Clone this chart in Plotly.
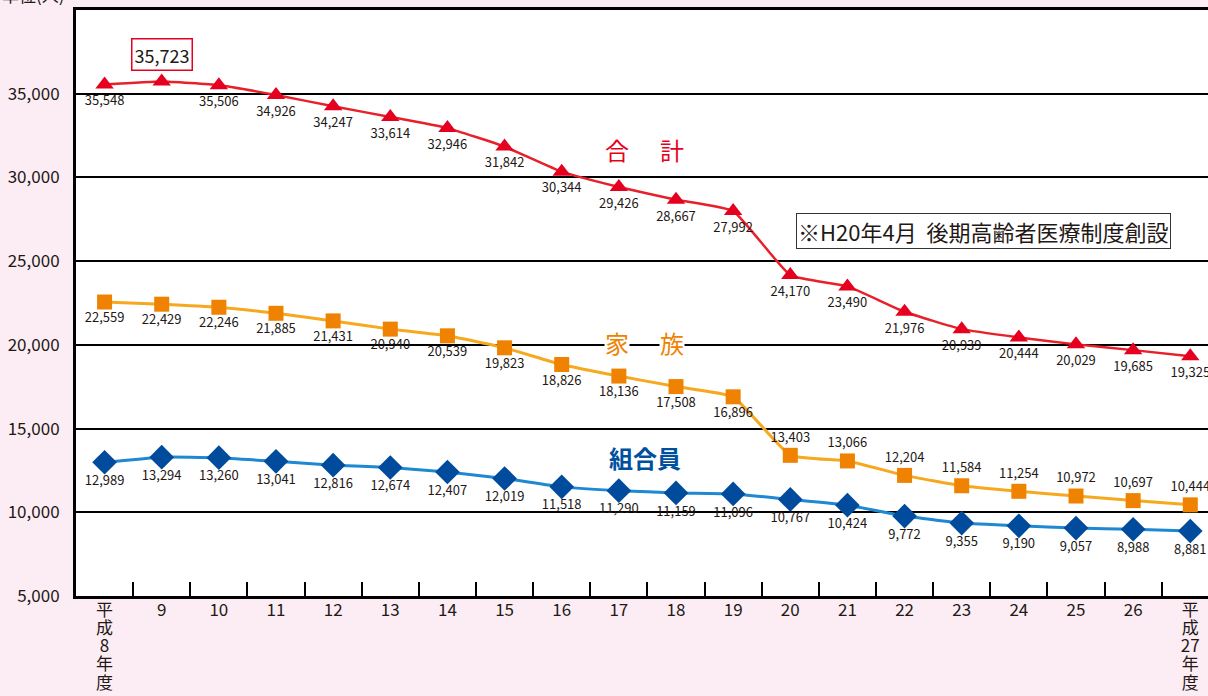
import plotly.graph_objects as go

years = ["平成8年度", "9", "10", "11", "12", "13", "14", "15", "16", "17",
         "18", "19", "20", "21", "22", "23", "24", "25", "26", "平成27年度"]
total = [35548, 35723, 35506, 34926, 34247, 33614, 32946, 31842, 30344, 29426,
         28667, 27992, 24170, 23490, 21976, 20939, 20444, 20029, 19685, 19325]
family = [22559, 22429, 22246, 21885, 21431, 20940, 20539, 19823, 18826, 18136,
          17508, 16896, 13403, 13066, 12204, 11584, 11254, 10972, 10697, 10444]
members = [12989, 13294, 13260, 13041, 12816, 12674, 12407, 12019, 11518, 11290,
           11159, 11096, 10767, 10424, 9772, 9355, 9190, 9057, 8988, 8881]
y_ticks = [5000, 10000, 15000, 20000, 25000, 30000, 35000]

FONT = "Noto Sans CJK JP"
LABEL = "#231815"


def fmt(v):
    return f"{v:,}"


def tick_text(label):
    # vertical stacking for the era-labelled ends
    if label.startswith("平成"):
        parts = ["平", "成", label[2:-2], "年", "度"]
    else:
        parts = [label]
    return "<br>".join(f'<span style="font-size:17px">{p}</span>' for p in parts)


fig = go.Figure()

# 組合員
fig.add_trace(go.Scatter(
    x=years, y=members, mode="lines+markers+text",
    line=dict(color="#1E88D2", width=3, shape="spline", smoothing=0.4),
    marker=dict(symbol="diamond", size=19, color="#004B9B"),
    text=[fmt(v) for v in members], textposition="bottom center",
    textfont=dict(family=FONT, size=13, color=LABEL), cliponaxis=False,
))

# 家族
fam_pos = ["bottom center"] * 12 + ["top center"] * 8
fig.add_trace(go.Scatter(
    x=years, y=family, mode="lines+markers+text",
    line=dict(color="#F6A91E", width=3, shape="spline", smoothing=0.4),
    marker=dict(symbol="square", size=15, color="#EF8200"),
    text=[fmt(v) for v in family], textposition=fam_pos,
    textfont=dict(family=FONT, size=13, color=LABEL), cliponaxis=False,
))

# 合計
tot_text = [fmt(v) for v in total]
tot_text[1] = ""
fig.add_trace(go.Scatter(
    x=years, y=total, mode="lines+markers+text",
    line=dict(color="#E8202A", width=2.5, shape="spline", smoothing=0.4),
    marker=dict(symbol="triangle-up", size=16, color="#E60020"),
    text=tot_text, textposition="bottom center",
    textfont=dict(family=FONT, size=13, color=LABEL), cliponaxis=False,
))

ann = []
# boxed peak value
ann.append(dict(x=1, y=total[1], xref="x", yref="y", text=fmt(total[1]), showarrow=False,
                yshift=27, font=dict(family=FONT, size=18, color=LABEL),
                bordercolor="#E60020", borderwidth=1.5, borderpad=2, bgcolor="white"))
# series names
for ch, xi in (("合", 8.97), ("計", 9.93)):
    ann.append(dict(x=xi, y=31650, xref="x", yref="y", text=ch, showarrow=False,
                    font=dict(family=FONT, size=24, color="#E60020")))
for ch, xi in (("家", 8.97), ("族", 9.93)):
    ann.append(dict(x=xi, y=20000, xref="x", yref="y", text=ch, showarrow=False,
                    bgcolor="white", borderpad=0, yshift=2,
                    font=dict(family=FONT, size=24, color="#EF8200")))
ann.append(dict(x=9.46, y=13300, xref="x", yref="y", text="<b>組合員</b>", showarrow=False,
                font=dict(family=FONT, size=24, color="#0050A0")))
ann.append(dict(x=15.38, y=26800, xref="x", yref="y", text="※H20年4月  後期高齢者医療制度創設",
                showarrow=False, font=dict(family=FONT, size=22, color=LABEL),
                bordercolor="#333333", borderwidth=1, borderpad=1, bgcolor="white"))
ann.append(dict(x=0, y=1.0, xref="paper", yref="paper", xanchor="left", yanchor="bottom",
                text="単位(人)", showarrow=False, xshift=-76, yshift=1,
                font=dict(family=FONT, size=17, color=LABEL)))

fig.update_layout(
    width=1208, height=696,
    margin=dict(l=76, r=0, t=10, b=100),
    paper_bgcolor="#FCEDF4", plot_bgcolor="white",
    showlegend=False,
    font=dict(family=FONT, color=LABEL),
    annotations=ann,
    xaxis=dict(type="category", range=[-0.5, 19.31], showgrid=False, automargin=False,
               tickvals=years, ticktext=[tick_text(t) for t in years],
               ticks="inside", tickson="boundaries", ticklen=14, tickwidth=2, tickcolor="black",
               showline=True, linecolor="black", linewidth=3, mirror=True,
               tickfont=dict(family=FONT, size=14, color=LABEL), tickangle=0),
    yaxis=dict(range=[5000, 40000], tickvals=y_ticks, tickformat=",d", automargin=False,
               showgrid=True, gridcolor="black", gridwidth=2,
               showline=True, linecolor="black", linewidth=3, mirror=True,
               ticks="", ticklabelstandoff=10,
               tickfont=dict(family=FONT, size=17, color=LABEL)),
)

fig.write_html("out.html")
